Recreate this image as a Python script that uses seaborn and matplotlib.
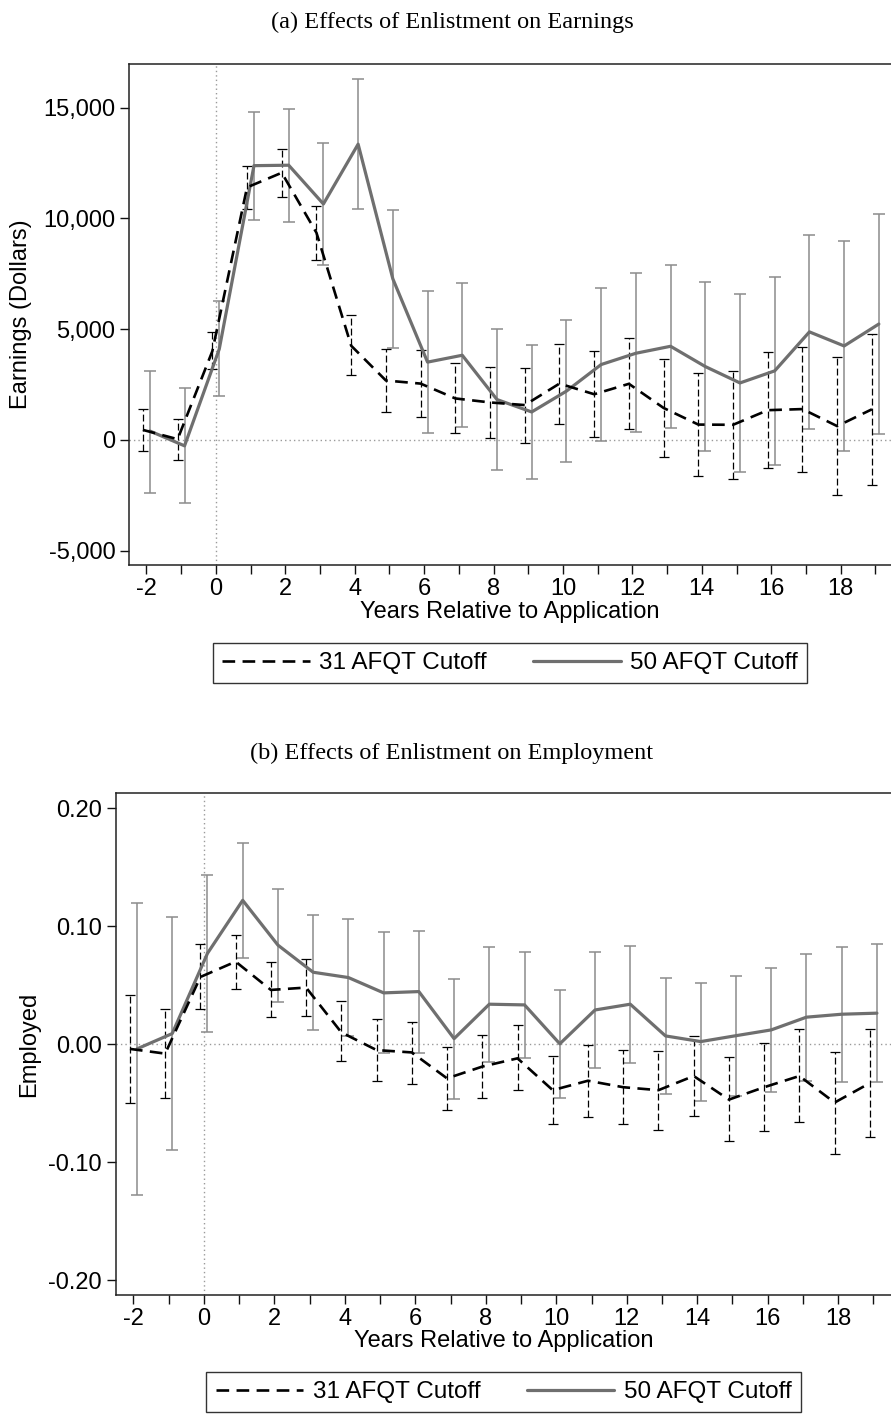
import numpy as np
import pandas as pd
import matplotlib
matplotlib.use("Agg")
import matplotlib.pyplot as plt
from matplotlib.lines import Line2D
from matplotlib.ticker import FuncFormatter, FixedLocator
import seaborn as sns

# ---------------- data ----------------
years = list(range(-2, 20))

# Panel (a) earnings, 31 AFQT cutoff
earn31 = [450, 30, 4000, 11400, 12060, 9350, 4250, 2680, 2540, 1870, 1690,
          1570, 2540, 2060, 2530, 1440, 690, 680, 1340, 1390, 620, 1380]
earn31_lo = [-500, -890, 3190, 10440, 10965, 8140, 2920, 1250, 1040, 290, 90,
             -120, 720, 120, 470, -780, -1620, -1770, -1260, -1430, -2480, -2040]
earn31_hi = [1385, 935, 4850, 12365, 13150, 10560, 5630, 4105, 4050, 3450, 3295,
             3250, 4350, 3990, 4590, 3655, 3010, 3130, 3945, 4200, 3720, 4800]

# Panel (a) earnings, 50 AFQT cutoff
earn50 = [400, -270, 4100, 12380, 12400, 10650, 13350, 7270, 3510, 3820, 1820,
          1260, 2200, 3400, 3910, 4225, 3310, 2570, 3115, 4875, 4240, 5230]
earn50_lo = [-2390, -2870, 1970, 9915, 9825, 7900, 10425, 4150, 290, 560, -1340,
             -1775, -1005, -70, 335, 530, -495, -1445, -1130, 485, -495, 270]
earn50_hi = [3130, 2350, 6270, 14800, 14955, 13400, 16280, 10365, 6725, 7085, 5025,
             4275, 5415, 6860, 7535, 7915, 7115, 6575, 7355, 9270, 8965, 10200]

# Panel (b) employment, 31 AFQT cutoff
emp31 = [-0.004, -0.008, 0.057, 0.070, 0.046, 0.048, 0.010, -0.005, -0.007, -0.029, -0.019,
         -0.012, -0.039, -0.031, -0.0365, -0.039, -0.027, -0.047, -0.0365, -0.027, -0.0495, -0.033]
emp31_lo = [-0.050, -0.046, 0.030, 0.047, 0.023, 0.024, -0.014, -0.031, -0.034, -0.056, -0.046,
            -0.039, -0.068, -0.062, -0.068, -0.073, -0.061, -0.082, -0.074, -0.066, -0.093, -0.079]
emp31_hi = [0.042, 0.030, 0.085, 0.093, 0.070, 0.072, 0.037, 0.021, 0.019, -0.0025, 0.008,
            0.016, -0.0097, -0.0006, -0.0048, -0.0057, 0.0073, -0.011, 0.0014, 0.0127, -0.0063, 0.0127]

# Panel (b) employment, 50 AFQT cutoff
emp50 = [-0.004, 0.009, 0.077, 0.122, 0.084, 0.061, 0.0565, 0.0435, 0.0446, 0.0047, 0.0339,
         0.0333, 0.0003, 0.029, 0.0339, 0.007, 0.0022, 0.0072, 0.0121, 0.0229, 0.0254, 0.0263]
emp50_lo = [-0.128, -0.090, 0.0105, 0.073, 0.036, 0.0124, 0.007, -0.0079, -0.0071, -0.0462, -0.0149,
            -0.0116, -0.0457, -0.020, -0.0158, -0.0425, -0.0478, -0.0436, -0.0407, -0.031, -0.0317, -0.0321]
emp50_hi = [0.120, 0.108, 0.1435, 0.171, 0.132, 0.1096, 0.106, 0.0949, 0.0963, 0.0556, 0.0827,
            0.0782, 0.0463, 0.078, 0.0836, 0.0565, 0.0522, 0.058, 0.0649, 0.0768, 0.0825, 0.0847]

labels = ["31 AFQT Cutoff", "50 AFQT Cutoff"]
titles = ["(a) Effects of Enlistment on Earnings", "(b) Effects of Enlistment on Employment"]
ylabels = ["Earnings (Dollars)", "Employed"]
xlabel = "Years Relative to Application"

# ---------------- style ----------------
sns.set_style("ticks")
plt.rcParams["font.family"] = ["Liberation Sans", "DejaVu Sans"]
plt.rcParams["text.color"] = "black"
plt.rcParams["axes.labelcolor"] = "black"
plt.rcParams["xtick.color"] = "black"
plt.rcParams["ytick.color"] = "black"
FS = 17
LFS = 17.5
BLACK = "#000000"
GRAY_LINE = "#6f6f6f"
GRAY_BAR = "#8c8c8c"
LINE_DASH = (4.8, 2.8)

fig = plt.figure(figsize=(8.91, 14.14), dpi=100)
H = 1414.0
W = 891.0
ax1 = fig.add_axes([129 / W, (H - 565) / H, (W - 129) / W, 501 / H])
ax2 = fig.add_axes([115.5 / W, (H - 1295) / H, (W - 115.5) / W, 502 / H])


def draw_panel(ax, v31, lo31, hi31, v50, lo50, hi50):
    x = np.array(years, dtype=float)
    v31, lo31, hi31 = map(np.asarray, (v31, lo31, hi31))
    v50, lo50, hi50 = map(np.asarray, (v50, lo50, hi50))
    x31 = x - 0.1
    x50 = x + 0.1
    ax.axhline(0, color="#9a9a9a", lw=1.0, ls=(0, (1, 2.2)), zorder=1)
    ax.axvline(0, color="#9a9a9a", lw=1.0, ls=(0, (1, 2.2)), zorder=1)
    ax.errorbar(x50, v50, yerr=[v50 - lo50, hi50 - v50], fmt="none",
                ecolor=GRAY_BAR, elinewidth=1.1, capsize=4.2, capthick=1.1, zorder=2)
    eb31 = ax.errorbar(x31, v31, yerr=[v31 - lo31, hi31 - v31], fmt="none",
                       ecolor=BLACK, elinewidth=0.9, capsize=3.4, capthick=0.9, zorder=3)
    for lc in eb31.lines[2]:
        lc.set_linestyle((0, (5.5, 2.5)))
    df31 = pd.DataFrame({"x": x31, "y": v31})
    df50 = pd.DataFrame({"x": x50, "y": v50})
    sns.lineplot(data=df50, x="x", y="y", ax=ax, color=GRAY_LINE, lw=2.3, zorder=4)
    sns.lineplot(data=df31, x="x", y="y", ax=ax, color=BLACK, lw=1.9, zorder=5)
    ax.lines[-1].set_dashes(LINE_DASH)
    ax.xaxis.set_major_locator(FixedLocator(years))
    ax.set_xticklabels([str(t) if t % 2 == 0 else "" for t in years], fontsize=FS)
    ax.tick_params(axis="both", direction="out", length=6.5, width=1.0, color="#111111",
                   labelsize=FS, pad=3.2, labelcolor="black")
    for s in ["left", "top", "bottom"]:
        ax.spines[s].set_color("#222222")
        ax.spines[s].set_linewidth(1.1)
    ax.spines["right"].set_visible(False)
    ax.set_xlabel(xlabel, fontsize=FS)


draw_panel(ax1, earn31, earn31_lo, earn31_hi, earn50, earn50_lo, earn50_hi)
ax1.set_xlim(-2.5, 19.45)
ax1.set_ylim(-5650, 16970)
ax1.set_yticks([-5000, 0, 5000, 10000, 15000])
ax1.yaxis.set_major_formatter(FuncFormatter(lambda v, p: f"{int(v):,}"))
ax1.set_ylabel(ylabels[0], fontsize=FS)
ax1.yaxis.set_label_coords((32 - 129) / 762, 0.5)
ax1.xaxis.set_label_coords(0.5, (565 - 601) / 501)

draw_panel(ax2, emp31, emp31_lo, emp31_hi, emp50, emp50_lo, emp50_hi)
ax2.set_xlim(-2.51, 19.5)
ax2.set_ylim(-0.2127, 0.213)
ax2.set_yticks([-0.2, -0.1, 0.0, 0.1, 0.2])
ax2.yaxis.set_major_formatter(FuncFormatter(lambda v, p: f"{v:.2f}"))
ax2.set_ylabel(ylabels[1], fontsize=FS)
ax2.yaxis.set_label_coords((40 - 115.5) / 775.5, 0.5)
ax2.xaxis.set_label_coords(0.5, (1295 - 1330) / 502)

# titles
fig.text(452 / W, 1 - 22 / H, titles[0], ha="center", va="center",
         family=["Liberation Serif", "DejaVu Serif"], fontsize=17.5)
fig.text(452 / W, 1 - 753 / H, titles[1], ha="center", va="center",
         family=["Liberation Serif", "DejaVu Serif"], fontsize=17.5)

# legends
handles = [Line2D([], [], color=BLACK, lw=1.9, dashes=LINE_DASH),
           Line2D([], [], color=GRAY_LINE, lw=2.3)]
for cx, cy in [(510, 663), (503.5, 1392)]:
    leg = fig.legend(handles, labels, loc="center", bbox_to_anchor=(cx / W, 1 - cy / H),
                     ncol=2, frameon=True, fancybox=False, edgecolor="black",
                     handlelength=3.6, handletextpad=0.4, columnspacing=1.9,
                     borderpad=0.38, fontsize=LFS, borderaxespad=0)
    leg.get_frame().set_linewidth(1.0)

fig.savefig("out.png", dpi=100, facecolor="white")
